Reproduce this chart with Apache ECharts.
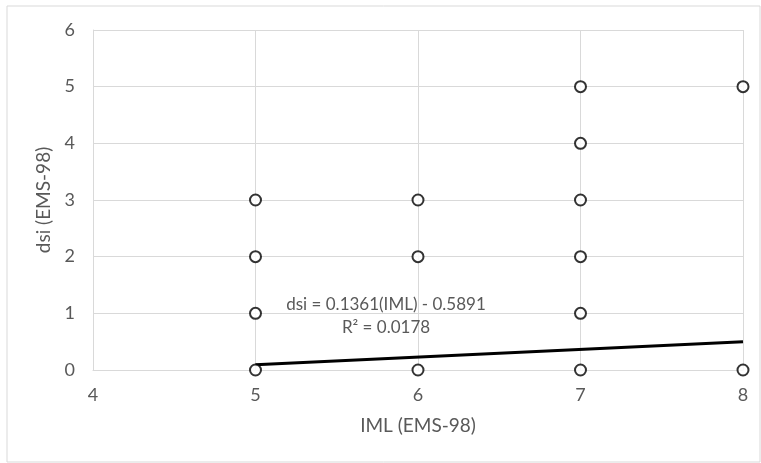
<!DOCTYPE html>
<html>
<head>
<meta charset="utf-8">
<script src="https://cdn.jsdelivr.net/npm/echarts@6/dist/echarts.min.js"></script>
<style>
  html, body { margin: 0; padding: 0; background: #fff; }
  #chart { width: 761px; height: 463px; }
</style>
</head>
<body>
<div id="chart"></div>
<script>
// Observed damage grade (dsi) against macroseismic intensity (IML)
const imlValues = [5, 5, 5, 5, 6, 6, 6, 7, 7, 7, 7, 7, 7, 8, 8];
const dsiValues = [0, 1, 2, 3, 0, 2, 3, 0, 1, 2, 3, 4, 5, 0, 5];

// Linear trend fitted to the observations
const trendSlope = 0.1361;
const trendIntercept = -0.5891;
const trendR2 = 0.0178;
const trendRange = [5, 8];

const xTicks = [4, 5, 6, 7, 8];
const yTicks = [0, 1, 2, 3, 4, 5, 6];

const points = imlValues.map((x, i) => [x, dsiValues[i]]);
const trendPoints = trendRange.map(x => [x, trendSlope * x + trendIntercept]);

const fontFamily = 'Lato';
const textColor = '#595959';
const gridColor = '#d9d9d9';

const chart = echarts.init(document.getElementById('chart'));
chart.setOption({
  animation: false,
  backgroundColor: '#fff',
  grid: { left: 93, right: 18, top: 30, bottom: 93 },
  xAxis: {
    type: 'value',
    min: xTicks[0], max: xTicks[xTicks.length - 1], interval: 1,
    name: 'IML (EMS-98)',
    nameLocation: 'middle', nameGap: 46,
    nameTextStyle: { color: textColor, fontSize: 19, fontFamily },
    axisLine: { show: true, onZero: false, lineStyle: { color: gridColor } },
    axisTick: { show: false },
    axisLabel: { color: textColor, fontSize: 18, fontFamily, margin: 16 },
    splitLine: { show: true, lineStyle: { color: gridColor, width: 1 } }
  },
  yAxis: {
    type: 'value',
    min: yTicks[0], max: yTicks[yTicks.length - 1], interval: 1,
    name: 'dsi (EMS-98)',
    nameLocation: 'middle', nameGap: 36,
    nameTextStyle: { color: textColor, fontSize: 19, fontFamily },
    axisLine: { show: true, lineStyle: { color: gridColor } },
    axisTick: { show: false },
    axisLabel: { color: textColor, fontSize: 18, fontFamily, margin: 18 },
    splitLine: { show: true, lineStyle: { color: gridColor, width: 1 } }
  },
  graphic: [
    {
      type: 'rect',
      shape: { x: 7, y: 6, width: 753, height: 456 },
      style: { fill: 'none', stroke: '#d9d9d9', lineWidth: 1 },
      silent: true, z: -1
    },
    {
      type: 'text',
      x: 386, y: 293,
      style: {
        text: 'dsi = ' + trendSlope.toFixed(4) + '(IML) - ' + Math.abs(trendIntercept).toFixed(4) +
              '\nR² = ' + trendR2.toFixed(4),
        fill: textColor, fontSize: 17, fontFamily,
        align: 'center', verticalAlign: 'top', lineHeight: 23
      },
      z: 10
    }
  ],
  series: [
    {
      type: 'line',
      data: trendPoints,
      symbol: 'none',
      lineStyle: { color: '#000', width: 3 },
      z: 3
    },
    {
      type: 'scatter',
      data: points,
      symbol: 'circle',
      symbolSize: 11,
      itemStyle: { color: '#fff', borderColor: '#000', borderWidth: 2 },
      z: 4
    }
  ]
});
</script>
</body>
</html>
